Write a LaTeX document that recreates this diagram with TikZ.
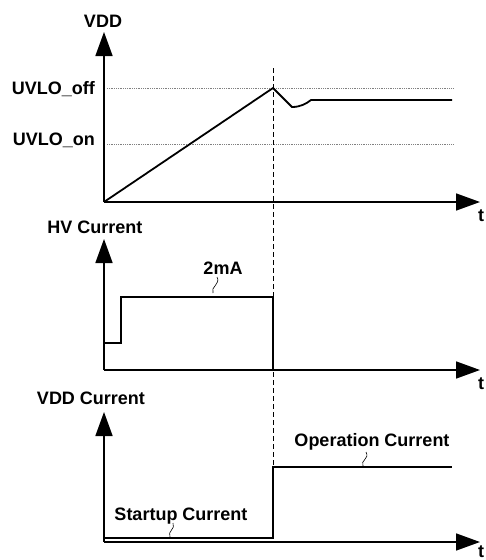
\documentclass[tikz,border=0pt]{standalone}
\usepackage{fontspec}
\setmainfont{Liberation Sans}
\usetikzlibrary{arrows.meta}

\begin{document}
\begin{tikzpicture}[x=1pt,y=-1pt,
  axis/.style={line width=1.6pt,-{Triangle[length=24pt,width=17pt]}},
  wave/.style={line width=1.8pt},
  level/.style={gray,densely dotted,line width=0.8pt},
  lbl/.style={font=\fontsize{18}{20}\selectfont\bfseries,inner sep=0pt},
  leader/.style={line width=0.6pt}]
  \useasboundingbox (0,0) rectangle (485,560);
  % axes
  \coordinate (o1) at (104,202);
  \coordinate (o2) at (104,370);
  \coordinate (o3) at (104,542);
  \draw[axis] (o1) -- (104,32);
  \draw[axis] (o1) -- (480,202);
  \draw[axis] (o2) -- (104,239);
  \draw[axis] (o2) -- (480,370);
  \draw[axis] (o3) -- (104,412);
  \draw[axis] (o3) -- (480,542);
  % labels
  \node[lbl,anchor=base] (vdd) at (103,27) {VDD};
  \node[lbl,anchor=base east] (off) at (95,94) {UVLO\_off};
  \node[lbl,anchor=base east] (on) at (95,145) {UVLO\_on};
  \node[lbl,anchor=base] (t1) at (481,221) {t};
  \node[lbl,anchor=base] (hv) at (95,233) {HV Current};
  \node[lbl,anchor=base] (ma) at (223,274) {2mA};
  \node[lbl,anchor=base] (t2) at (481,389) {t};
  \node[lbl,anchor=base] (vddi) at (91,404) {VDD Current};
  \node[lbl,anchor=base] (op) at (372,446) {Operation Current};
  \node[lbl,anchor=base] (st) at (181,520) {Startup Current};
  \node[lbl,anchor=base] (t3) at (481,557) {t};
  % thresholds and switch-on instant
  \draw[level] (107,88) -- (453,88);
  \draw[level] (107,144) -- (453,144);
  \draw[line width=0.7pt,dash pattern=on 5pt off 3pt] (273,68) -- (273,467);
  % waveforms
  \draw[wave] (o1) -- (273,88) -- (292,107) .. controls (300,107) and (306,104) .. (311,100) -- (452,100);
  \draw[wave] (o2) ++(0,-27) -- (121,343) -- (121,297) -- (273,297) -- (273,370);
  \draw[wave] (104,538) -- (273,538) -- (273,467) -- (452,467);
  % leaders
  \draw[leader] (217,277) .. controls (221,284) and (210,287) .. (213,293);
  \draw[leader] (366,452) .. controls (370,459) and (360,460) .. (363,466);
  \draw[leader] (173,523) .. controls (176,529) and (167,531) .. (170,537);
\end{tikzpicture}
\end{document}
